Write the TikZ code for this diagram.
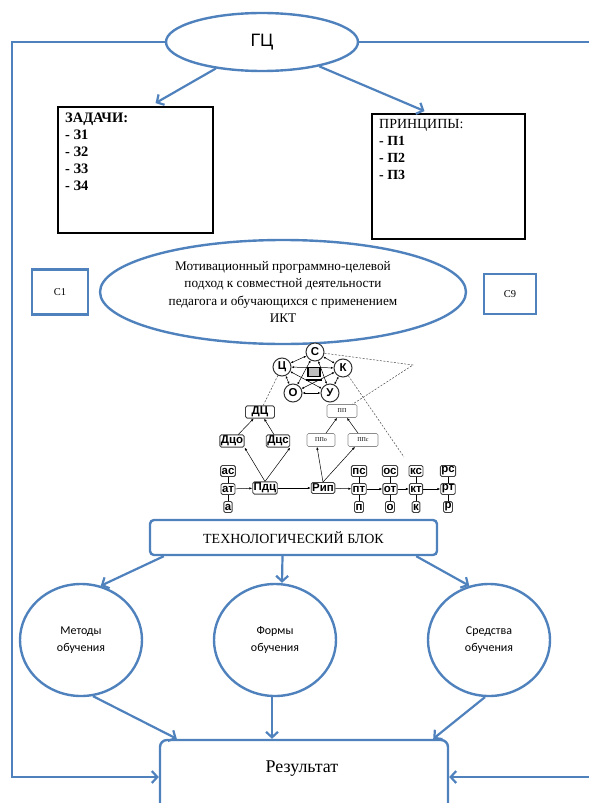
\documentclass[tikz,border=0pt]{standalone}
\usepackage{fontspec}
\setmainfont{Liberation Serif}
\newfontfamily\arialfont{Liberation Sans}
\newfontfamily\calfont{Carlito}
\usetikzlibrary{shapes.geometric,arrows.meta,calc}
\definecolor{ofblue}{RGB}{79,129,189}

\tikzset{
  bell/.style={ellipse, draw=ofblue, line width=2.4bp, inner sep=0pt},
  bbox/.style={rectangle, draw=ofblue, line width=2.4bp, inner sep=0pt, font=\fontsize{10.5}{10.5}\selectfont},
  kbox/.style={rectangle, draw=black, line width=1.8bp, inner sep=0pt},
  bcirc/.style={bell, minimum width=122bp, minimum height=112bp, align=center, font=\calfont\fontsize{12}{17}\selectfont},
  barr/.style={ofblue, line width=2.2bp, -{Straight Barb[length=5.5bp,width=12bp]}},
  scir/.style={circle, draw=black!80, line width=1bp, fill=white, inner sep=0pt, minimum size=18bp, font=\arialfont\bfseries\fontsize{11.5}{11.5}\selectfont},
  sbox/.style={rectangle, rounded corners=1.5bp, draw=black!75, line width=0.9bp, fill=white, inner sep=1bp, minimum height=11bp, font=\arialfont\bfseries\fontsize{11.5}{11.5}\selectfont},
  pbox/.style={rectangle, rounded corners=1.5bp, draw=black!45, line width=0.6bp, fill=white, minimum height=13bp, font=\fontsize{6}{6}\selectfont},
  sarr/.style={-{Latex[length=3bp,width=2.4bp]}, line width=0.5bp},
  sdbl/.style={{Latex[length=2.5bp,width=2.2bp]}-{Latex[length=2.5bp,width=2.2bp]}, line width=0.5bp},
  dsh/.style={dash pattern=on 2bp off 1.5bp, line width=0.5bp, black!70}
}

\begin{document}
\begin{tikzpicture}[x=1bp, y=-1bp]
\useasboundingbox (0,0) rectangle (589,803);
\clip (0,0) rectangle (589,803);

\node[bell, minimum width=192bp, minimum height=58bp, font=\arialfont\fontsize{18}{18}\selectfont] (gc) at (262,42) {ГЦ};

\node[kbox, minimum width=155bp, minimum height=126bp] (zad) at (135.5,170) {};
\node[anchor=north west, align=left, inner sep=0pt, font=\bfseries\fontsize{14.5}{17}\selectfont] (zadtxt) at (65,113) {ЗАДАЧИ:\\- З1\\- З2\\- З3\\- З4};
\node[kbox, minimum width=153bp, minimum height=125bp] (pr) at (448.5,176.5) {};
\node[anchor=north west, align=left, inner sep=0pt, font=\fontsize{14}{17}\selectfont] (prtxt) at (379,119) {ПРИНЦИПЫ:\\\textbf{- П1}\\\textbf{- П2}\\\textbf{- П3}};

\draw[barr] (gc) -- ($(zad.north)+(20,-3)$);
\draw[barr] (gc) -- ($(pr.north)+(-24,-2)$);

\node[bell, minimum width=366bp, minimum height=104bp, align=center, font=\fontsize{13.3}{17.5}\selectfont] (mot) at (283,292) {Мотивационный программно-целевой\\подход к совместной деятельности\\педагога и обучающихся с применением\\ИКТ};
\node[bbox, minimum width=56bp, minimum height=45bp] (c1) at (60,292) {С1};
\node[bbox, minimum width=52bp, minimum height=40bp] (c9) at (510,294) {С9};

% small scheme
\node[scir] (nS) at (315,352) {С};
\node[scir] (nC) at (282,367) {Ц};
\node[scir] (nK) at (343,368) {К};
\node[scir] (nO) at (293,393) {О};
\node[scir] (nU) at (330,393) {У};
\foreach \a/\b in {nS/nC,nS/nK,nC/nK,nC/nO,nO/nU,nU/nK,nS/nO,nS/nU,nC/nU,nK/nO}
  \draw[sdbl] (\a) -- (\b);
\node[draw, line width=1.2bp, fill=black!25, minimum width=12bp, minimum height=9bp, inner sep=0pt] (pc) at (314,372) {};
\fill ($(pc.south west)+(-1,1.5)$) rectangle ($(pc.south east)+(1,3.5)$);

\node[sbox, minimum width=29bp] (dc) at (260,412) {ДЦ};
\node[sbox] (dco) at (232,441) {Дцо};
\node[sbox] (dcs) at (278,441) {Дцс};
\node[pbox, minimum width=30bp] (pp) at (342,411) {ПП};
\node[pbox, minimum width=28bp] (ppo) at (321,440) {ППо};
\node[pbox, minimum width=30bp] (pps) at (363,440) {ППс};
\node[sbox] (pdc) at (265,488) {Пдц};
\node[sbox] (rip) at (323,488) {Рип};
\node[sbox] (as) at (228,471) {ас};
\node[sbox] (at) at (228,489) {ат};
\node[sbox] (a) at (228,507) {а};
\foreach \l/\x [count=\i] in {п/359,о/390,к/416,р/448} {
  \node[sbox] (s\i) at (\x,471) {\l{}с};
  \node[sbox] (t\i) at (\x,489) {\l{}т};
  \node[sbox] (b\i) at (\x,507) {\l};
  \draw[line width=0.5bp] (s\i) -- (t\i) -- (b\i);
}
\draw[line width=0.5bp] (as) -- (at) -- (a);

\draw[sarr] (dco) -- (dc);
\draw[sarr] (dcs) -- (dc);
\draw[sarr] (ppo) -- (pp);
\draw[sarr] (pps) -- (pp);
\draw[sarr] (pdc.north) -- (dco.south east);
\draw[sarr] (pdc.north) -- (dcs.south east);
\draw[sarr] (rip.north) -- ($(ppo.south)+(-4,0)$);
\draw[sarr] (rip.north) -- ($(pps.south)+(-8,0)$);
\draw[sarr] (at) -- (pdc);
\draw[sarr] (pdc) -- (rip);
\draw[sarr] (rip) -- (t1);
\foreach \i/\j in {1/2,2/3,3/4}
  \draw[sarr] (t\i) -- (t\j);

\coordinate (tip) at (413,365);
\coordinate (kend) at (404,457);
\draw[dsh] (dc) -- (nC);
\draw[dsh] (nS) -- (tip) -- (pp);
\draw[dsh] (nK) -- (kend);

% lower part
\node[bbox, rounded corners=4bp, minimum width=287bp, minimum height=35bp, font=\fontsize{14}{14}\selectfont] (tech) at (293.5,537.5) {ТЕХНОЛОГИЧЕСКИЙ БЛОК};
\node[bcirc] (met) at (81,640) {Методы\\обучения};
\node[bcirc] (form) at (275,640) {Формы\\обучения};
\node[bcirc] (srd) at (489,640) {Средства\\обучения};
\node[bbox, rounded corners=7bp, minimum width=288bp, minimum height=74bp] (res) at (304,777) {};
\node[font=\fontsize{18}{18}\selectfont] (restxt) at (302,769) {Результат};

\draw[barr] ($(tech.south west)+(15,0)$) -- (met.70);
\draw[barr] ($(tech.south)+(-11,0)$) -- ($(form.north)+(7,0)$);
\draw[barr] ($(tech.south east)+(-22,0)$) -- (srd.110);
\draw[barr] (met.-78) -- ($(res.north west)+(18,0)$);
\draw[barr] (form.-93) -- (form.-93 |- res.north);
\draw[barr] (srd.-94) -- ($(res.north east)+(-16,0)$);

\draw[barr] (gc.west) -- (12,42) |- (res.west);
\draw[barr] (gc.east) -- (592,42) |- (res.east);
\end{tikzpicture}
\end{document}
